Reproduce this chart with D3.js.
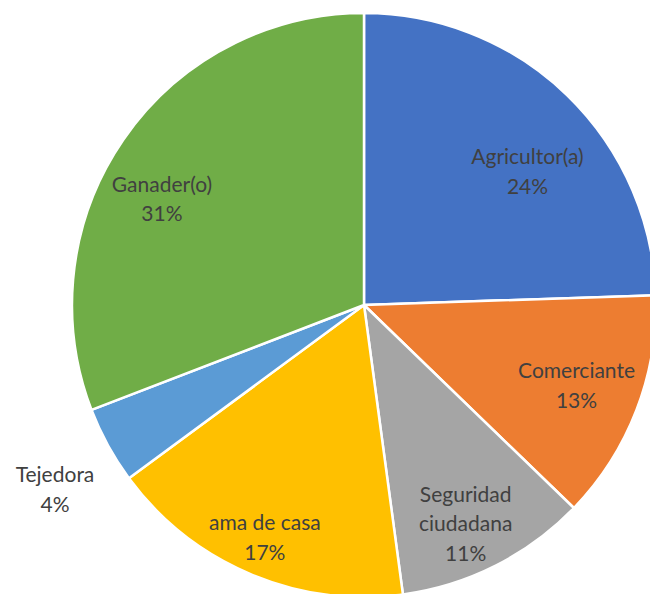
<!DOCTYPE html>
<html><head><meta charset="utf-8">
<script src="https://cdn.jsdelivr.net/npm/d3@7"></script>
<style>body{margin:0;background:#fff}</style>
</head><body>
<svg id="c" width="650" height="594"></svg>
<script>
const categories = ["Agricultor(a)", "Comerciante", "Seguridad ciudadana", "ama de casa", "Tejedora", "Ganader(o)"];
const values = [23, 12, 10, 16, 4, 29];
const colors = ["#4472C4", "#ED7D31", "#A5A5A5", "#FFC000", "#5B9BD5", "#70AD47"];
// label layout: [angle nudge (deg), radius fraction]
const labelLayout = [[7, 0.72], [0, 0.78], [2, 0.83], [0, 0.87], [-2.3, 1.235], [-7, 0.78]];
const labelLines = [["Agricultor(a)"], ["Comerciante"], ["Seguridad", "ciudadana"], ["ama de casa"], ["Tejedora"], ["Ganader(o)"]];

const svg = d3.select("#c");
const cx = 364, cy = 305, R = 292;
const total = d3.sum(values);
const pie = d3.pie().sort(null).value(d => d)(values);
const arc = d3.arc().innerRadius(0).outerRadius(R);
const g = svg.append("g").attr("transform", `translate(${cx},${cy})`);
g.selectAll("path").data(pie).join("path")
  .attr("d", arc).attr("fill", (d, i) => colors[i])
  .attr("stroke", "#fff").attr("stroke-width", 2.5).attr("stroke-linejoin", "round");

const fmt = v => Math.round(v / total * 100) + "%";
const lh = 29.5;
pie.forEach((d, i) => {
  const a = (d.startAngle + d.endAngle) / 2 + labelLayout[i][0] * Math.PI / 180;
  const r = R * labelLayout[i][1];
  const x = Math.sin(a) * r, y = -Math.cos(a) * r - 1;
  const lines = labelLines[i].concat([fmt(d.value)]);
  const t = g.append("text").attr("text-anchor", "middle")
    .attr("font-family", "Lato, 'Open Sans', sans-serif").attr("font-size", 21).attr("fill", "#404040");
  const y0 = y - (lines.length - 1) * lh / 2;
  lines.forEach((s, k) => t.append("tspan").attr("x", x).attr("y", y0 + k * lh).attr("dy", "0.35em").text(s));
});
</script>
</body></html>
